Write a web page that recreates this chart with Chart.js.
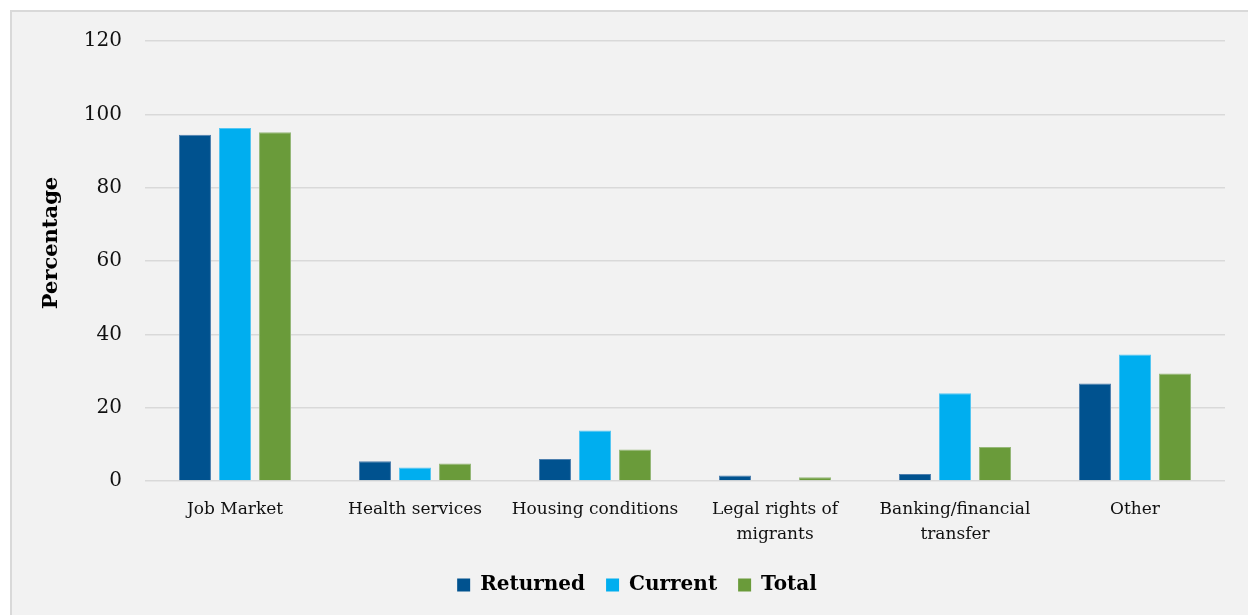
<!DOCTYPE html>
<html>
<head>
<meta charset="utf-8">
<script src="https://cdn.jsdelivr.net/npm/chart.js@4/dist/chart.umd.min.js"></script>
<style>
  html, body { margin: 0; padding: 0; background: #fff; overflow: hidden; }
  .frame {
    position: absolute; left: 10px; top: 10px; width: 1260px; height: 630px;
    background: #f2f2f2; border-left: 2px solid #d9d9d9; border-top: 2px solid #d9d9d9;
  }
  #chart { position: absolute; left: 0; top: 0; }
</style>
</head>
<body>
<div class="frame"></div>
<canvas id="chart" width="1248" height="615"></canvas>
<script>
// categories + series
const categories = [
    "Job Market",
    "Health services",
    "Housing conditions",
    ["Legal rights of", "migrants"],
    ["Banking/financial", "transfer"],
    "Other"
];
const returned = [94.4, 5.4, 6.0, 1.5, 1.9, 26.6];
const current  = [96.3, 3.7, 13.8, 0, 23.9, 34.5];
const total    = [95.1, 4.8, 8.6, 1.0, 9.3, 29.3];
const yTicks   = [0, 20, 40, 60, 80, 100, 120];

const SERIF = "'DejaVu Serif', serif";

// y axis title, drawn by hand so it sits where the original has it
const yTitlePlugin = {
    id: "yTitle",
    afterDraw(chart) {
        const ctx = chart.ctx;
        ctx.save();
        ctx.translate(52, 243);
        ctx.rotate(-Math.PI / 2);
        ctx.font = "bold 21px " + SERIF;
        ctx.fillStyle = "#000";
        ctx.textAlign = "center";
        ctx.textBaseline = "middle";
        ctx.fillText("Percentage", 0, 0);
        ctx.restore();
    }
};

function series(label, data, fill, edge) {
    return {
        label: label,
        data: data,
        backgroundColor: fill,
        borderColor: edge,
        borderWidth: 1,
        categoryPercentage: 0.667,
        barPercentage: 0.8
    };
}

new Chart(document.getElementById("chart"), {
    type: "bar",
    data: {
        labels: categories,
        datasets: [
            series("Returned", returned, "#00528f", "#4d7fae"),
            series("Current", current, "#00aeef", "#55c6f2"),
            series("Total", total, "#6a9b3a", "#97b97a")
        ]
    },
    options: {
        responsive: false,
        animation: false,
        // left padding pushes the legend a bit right, like the original
        layout: { padding: { top: 41, right: 23, bottom: 10, left: 49 } },
        plugins: {
            tooltip: { enabled: false },
            legend: {
                position: "bottom",
                labels: {
                    color: "#000",
                    boxWidth: 13,
                    boxHeight: 13,
                    padding: 21,
                    font: { family: SERIF, size: 20, weight: "bold" },
                    generateLabels(chart) {
                        return chart.data.datasets.map((ds, i) => ({
                            text: ds.label,
                            fillStyle: ds.backgroundColor,
                            strokeStyle: ds.backgroundColor,
                            lineWidth: 0,
                            datasetIndex: i
                        }));
                    }
                }
            }
        },
        scales: {
            x: {
                afterFit(scale) { scale.height = 73; },
                grid: { display: false, drawTicks: false },
                border: { display: false },
                ticks: {
                    color: "#111",
                    padding: 16,
                    maxRotation: 0,
                    autoSkip: false,
                    font: { family: SERIF, size: 17, lineHeight: 1.47 }
                }
            },
            y: {
                min: 0,
                max: 120,
                afterFit(scale) { scale.width = 96; },
                afterBuildTicks(scale) { scale.ticks = yTicks.map(v => ({ value: v })); },
                grid: { color: "#d9d9d9", lineWidth: 1.5, drawTicks: false },
                border: { display: false },
                ticks: {
                    color: "#111",
                    padding: 23,
                    font: { family: SERIF, size: 20 }
                }
            }
        }
    },
    plugins: [yTitlePlugin]
});
</script>
</body>
</html>
